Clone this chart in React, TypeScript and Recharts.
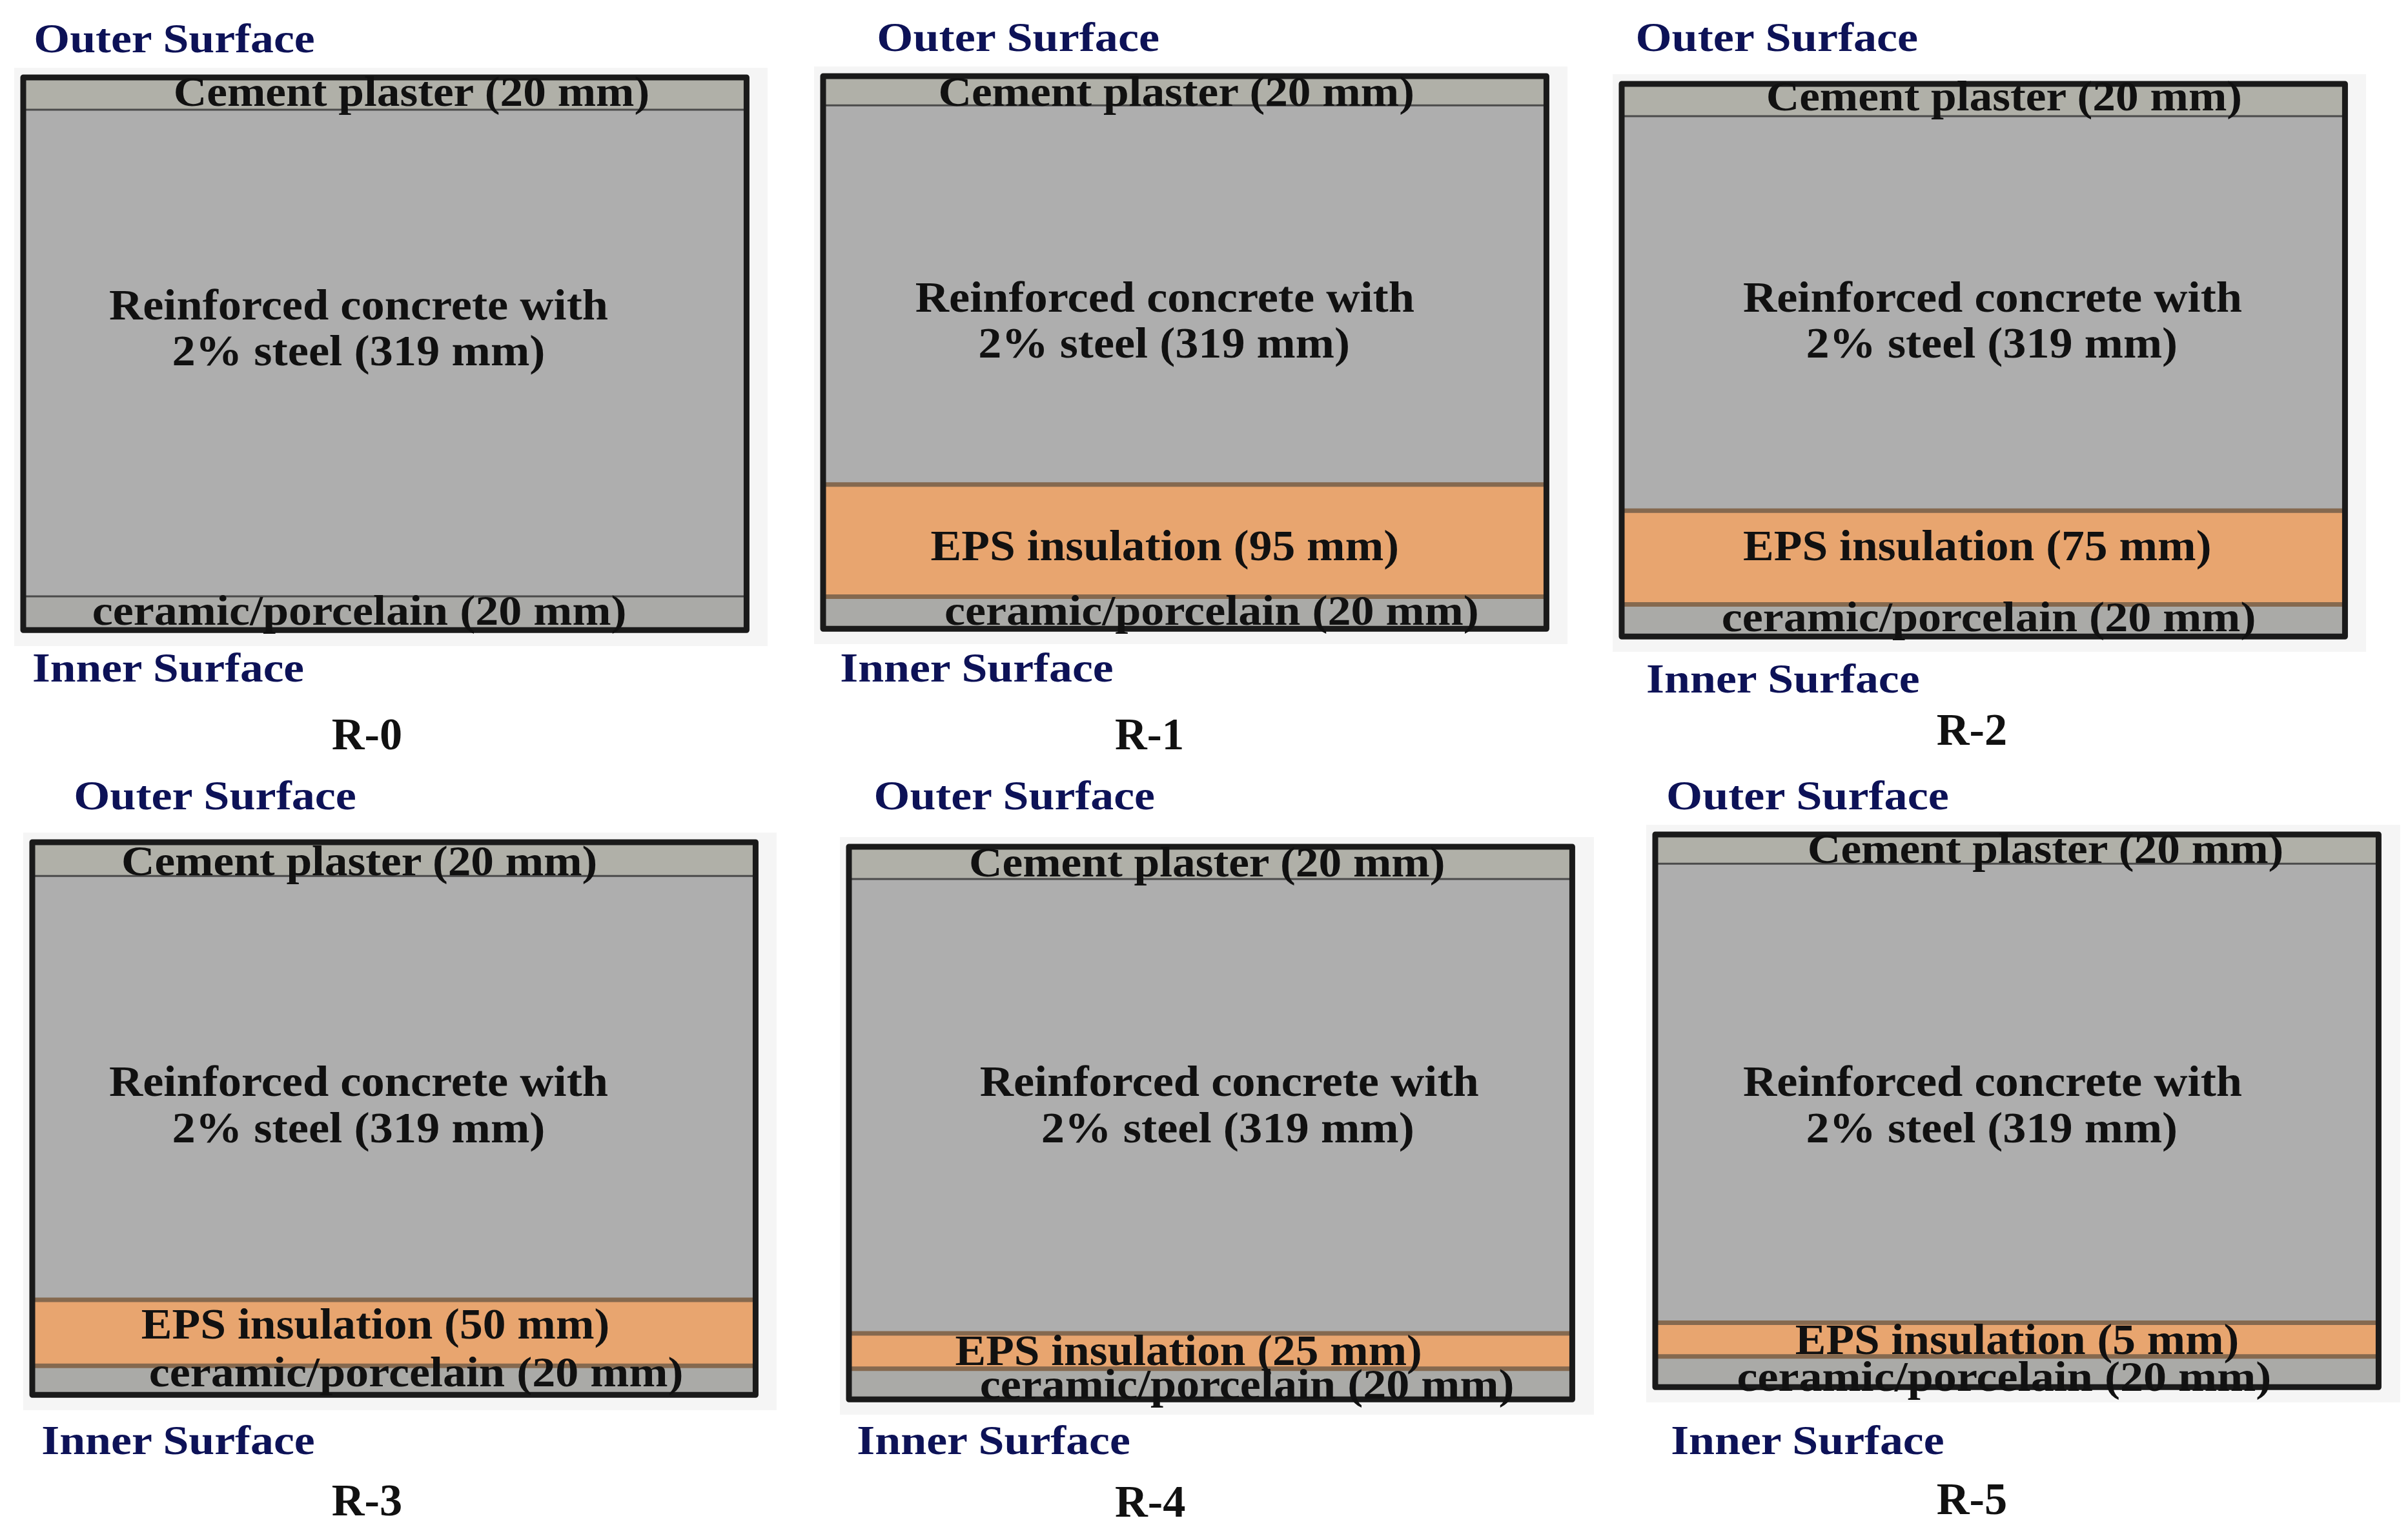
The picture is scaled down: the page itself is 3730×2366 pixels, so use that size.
import { Bar, BarChart, ReferenceArea, ReferenceLine, XAxis, YAxis } from "recharts";

// layer depths as drawn on each wall section
const walls = ["R-0", "R-1", "R-2", "R-3", "R-4", "R-5"];
const cementDepth = [21, 19, 21, 22, 21, 19];
const concreteDepth = [317, 247, 257, 276, 296, 299];
const epsDepth = [0, 73, 61, 43, 23, 22];
const ceramicDepth = [22, 21, 21, 19, 20, 20];

const eps = ["", "95", "75", "50", "25", "5"];

const outerLabel = "Outer Surface";
const innerLabel = "Inner Surface";
const cementLabel = "Cement plaster (20 mm)";
const concreteLabel1 = "Reinforced concrete with";
const concreteLabel2 = "2% steel (319 mm)";
const ceramicLabel = "ceramic/porcelain (20 mm)";

// picture is laid out in units of the small preview, k converts to page px
const k = 3730 / 1568;
const boxLeft = [15, 536, 1056, 21, 553, 1078];
const boxTop = [50.5, 49.5, 54.5, 548.5, 551.5, 543.5];
const boxW = 471;
const boxH = 360;

// [x start, x end, baseline]
const outerPos = [[22, 205, 34], [571, 755, 33], [1065, 1249, 33], [48, 232, 527], [569, 752, 527], [1085, 1269, 527]];
const innerPos = [[21, 198, 444], [547, 725, 444], [1072, 1250, 451], [27, 205, 947], [558, 736, 947], [1088, 1266, 947]];
const cementPos = [[113, 423, 69], [611, 921, 69], [1150, 1460, 72], [79, 389, 570], [631, 941, 571], [1177, 1487, 562]];
const concretePos1 = [[71, 396, 208], [596, 921, 203], [1135, 1460, 203], [71, 396, 714], [638, 963, 714], [1135, 1460, 714]];
const concretePos2 = [[112, 355, 238], [637, 879, 233], [1176, 1418, 233], [112, 355, 744], [678, 921, 744], [1176, 1418, 744]];
const epsPos = [[0, 0, 0], [606, 911, 365], [1135, 1440, 365], [92, 397, 872], [622, 926, 889], [1169, 1458, 882]];
const ceramicPos = [[60, 408, 407], [615, 963, 407], [1121, 1469, 411], [97, 445, 903], [638, 986, 911], [1131, 1479, 906]];
const namePos = [[216, 262, 488], [726, 771, 488], [1261, 1307, 485], [216, 262, 987], [726, 772, 988], [1261, 1307, 986]];

const GREY = "#aeaeae";
const ORANGE = "#e8a56f";
const BROWN = "#85694f";
const EDGE = "#1a1a1a";
const NAVY = "#0d1257";
const INK = "#111111";

const haloL = 14;
const haloR = 33;
const haloT = 15;
const haloB = 24;

const Wall = ({ i }: { i: number }) => {
  const row = {
    name: walls[i],
    ceramic: ceramicDepth[i],
    eps: epsDepth[i],
    concrete: concreteDepth[i],
    cement: cementDepth[i],
  };
  const total = row.ceramic + row.eps + row.concrete + row.cement;
  const w = boxW * k;
  const h = boxH * k;
  return (
    <div
      style={{
        position: "absolute",
        left: boxLeft[i] * k - haloL,
        top: boxTop[i] * k - haloT,
        background: "#f5f5f5",
      }}
    >
      <BarChart
        width={w + haloL + haloR}
        height={h + haloT + haloB}
        data={[row]}
        barCategoryGap={0}
        barGap={0}
        margin={{ top: haloT, right: haloR, bottom: haloB, left: haloL }}
      >
        <XAxis dataKey="name" hide />
        <YAxis hide type="number" domain={[0, total]} />
        <Bar dataKey="ceramic" stackId="wall" fill="#aaaaa7" isAnimationActive={false} />
        <Bar dataKey="eps" stackId="wall" fill={ORANGE} isAnimationActive={false} />
        <Bar dataKey="concrete" stackId="wall" fill={GREY} isAnimationActive={false} />
        <Bar dataKey="cement" stackId="wall" fill="#b0b0a8" isAnimationActive={false} />
        {row.eps > 0 && <ReferenceLine y={row.ceramic} stroke={BROWN} strokeWidth={7} />}
        {row.eps > 0 && <ReferenceLine y={row.ceramic + row.eps} stroke={BROWN} strokeWidth={7} />}
        {row.eps === 0 && <ReferenceLine y={row.ceramic} stroke="#4a4a4a" strokeWidth={3} />}
        <ReferenceLine y={total - row.cement} stroke="#4a4a4a" strokeWidth={3} />
        <ReferenceArea
          y1={0}
          y2={total}
          fill="none"
          stroke={EDGE}
          strokeWidth={9}
          strokeLinejoin="round"
          ifOverflow="visible"
          zIndex={900}
        />
      </BarChart>
    </div>
  );
};

const Caption = ({
  at,
  text,
  size,
  color = INK,
}: {
  at: number[];
  text: string;
  size: number;
  color?: string;
}) => (
  <text
    x={at[0] * k}
    y={at[2] * k}
    fontSize={size}
    fontWeight="bold"
    fontFamily="'Liberation Serif', serif"
    fill={color}
    textLength={(at[1] - at[0]) * k}
    lengthAdjust="spacingAndGlyphs"
  >
    {text}
  </text>
);

const App = () => {
  return (
    <div
      style={{
        position: "absolute",
        left: 0,
        top: 0,
        width: 3730,
        height: 2366,
        background: "#ffffff",
        overflow: "hidden",
      }}
    >
      {walls.map((name, i) => (
        <Wall key={name} i={i} />
      ))}
      <svg width={3730} height={2366} style={{ position: "absolute", left: 0, top: 0 }}>
        {walls.map((name, i) => (
          <g key={name}>
            <Caption at={outerPos[i]} text={outerLabel} size={64} color={NAVY} />
            <Caption at={innerPos[i]} text={innerLabel} size={64} color={NAVY} />
            <Caption at={cementPos[i]} text={cementLabel} size={66} />
            <Caption at={concretePos1[i]} text={concreteLabel1} size={68} />
            <Caption at={concretePos2[i]} text={concreteLabel2} size={68} />
            {eps[i] && <Caption at={epsPos[i]} text={`EPS insulation (${eps[i]} mm)`} size={68} />}
            <Caption at={ceramicPos[i]} text={ceramicLabel} size={66} />
            <Caption at={namePos[i]} text={name} size={70} />
          </g>
        ))}
      </svg>
    </div>
  );
};

export default App;
